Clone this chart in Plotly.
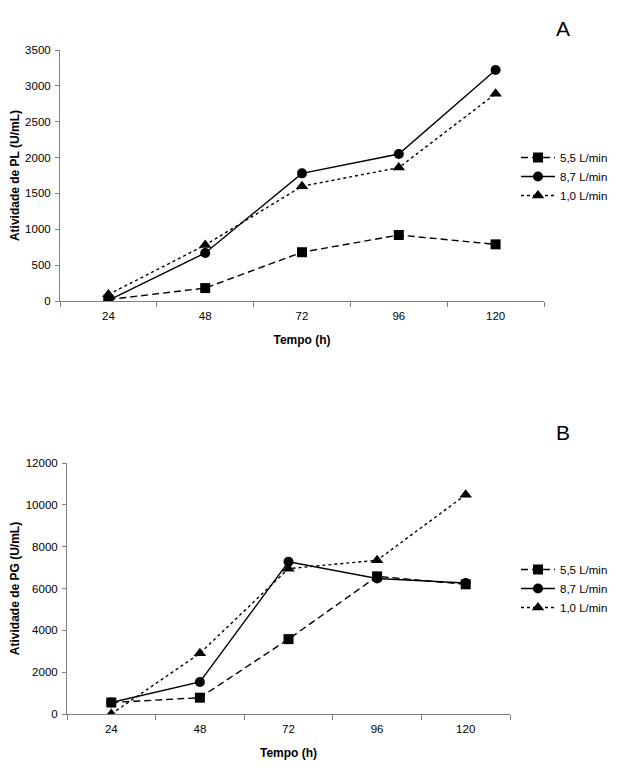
import plotly.graph_objects as go

tempo = ["24", "48", "72", "96", "120"]
series_names = ["5,5 L/min", "8,7 L/min", "1,0 L/min"]

pl_55 = [20, 180, 680, 920, 790]
pl_87 = [10, 670, 1780, 2050, 3220]
pl_10 = [90, 780, 1600, 1860, 2890]

pg_55 = [550, 780, 3580, 6580, 6200]
pg_87 = [550, 1530, 7280, 6480, 6260]
pg_10 = [0, 2900, 6950, 7350, 10480]

styles = [
    dict(dash="7px,4px", symbol="square", size=10),
    dict(dash="solid", symbol="circle", size=10),
    dict(dash="dot", symbol="triangle-up", size=11),
]

FONT = "Liberation Sans, Arial, sans-serif"
fig = go.Figure()

for i, (name, vals) in enumerate(zip(series_names, [pl_55, pl_87, pl_10])):
    st = styles[i]
    fig.add_trace(go.Scatter(
        x=tempo, y=vals, name=name, mode="lines+markers",
        line=dict(color="black", width=1.4, dash=st["dash"]),
        marker=dict(symbol=st["symbol"], size=st["size"], color="black"),
        xaxis="x", yaxis="y", legend="legend",
    ))
for i, (name, vals) in enumerate(zip(series_names, [pg_55, pg_87, pg_10])):
    st = styles[i]
    fig.add_trace(go.Scatter(
        x=tempo, y=vals, name=name, mode="lines+markers",
        line=dict(color="black", width=1.4, dash=st["dash"]),
        marker=dict(symbol=st["symbol"], size=st["size"], color="black"),
        xaxis="x2", yaxis="y2", legend="legend2",
    ))

# page body has an 8px margin: work in page pixels and shift by OFF
OFF = 8
W = 620 - 2 * OFF
H = 779 - 2 * OFF

def px(v):
    return (v - OFF) / W

def py(v):
    return 1 - (v - OFF) / H

def xax(x0, x1, anchor):
    return dict(
        domain=[px(x0), px(x1)], anchor=anchor, type="category",
        range=[-0.5, 4.5], tickson="boundaries", ticks="outside", ticklen=5,
        tickcolor="#808080", showline=True, linecolor="#808080", linewidth=1,
        showgrid=False, zeroline=False, ticklabelstandoff=4, automargin=False,
        tickfont=dict(family=FONT, size=11.5, color="black"),
        title=dict(text="<b>Tempo (h)</b>", font=dict(family=FONT, size=12, color="black"), standoff=14),
    )

def yax(ytop, ybot, anchor, rmax, dtick, title):
    return dict(
        domain=[py(ybot), py(ytop)], anchor=anchor,
        range=[0, rmax], dtick=dtick, tickformat="d",
        ticks="outside", ticklen=4, tickcolor="#808080",
        showline=True, linecolor="#808080", linewidth=1,
        showgrid=False, zeroline=False, ticklabelstandoff=2, automargin=False,
        tickfont=dict(family=FONT, size=11.5, color="black"),
        title=dict(text="<b>" + title + "</b>", font=dict(family=FONT, size=12, color="black"), standoff=3),
    )

legend_common = dict(xanchor="left", yanchor="top",
                     font=dict(family=FONT, size=11.5), tracegroupgap=0,
                     itemwidth=34, bgcolor="rgba(0,0,0,0)")

fig.update_layout(
    width=W, height=H,
    margin=dict(l=0, r=0, t=0, b=0, autoexpand=False),
    paper_bgcolor="white", plot_bgcolor="white",
    font=dict(family=FONT, size=12, color="black"),
    xaxis=xax(60, 544, "y"),
    yaxis=yax(50, 301, "x", 3500, 500, "Atividade de PL (U/mL)"),
    xaxis2=xax(67, 510, "y2"),
    yaxis2=yax(463, 714, "x2", 12000, 2000, "Atividade de PG (U/mL)"),
    legend=dict(x=px(516), y=py(143), **legend_common),
    legend2=dict(x=px(516), y=py(555), **legend_common),
    annotations=[
        dict(text="A", x=px(563), y=py(28), xref="paper", yref="paper",
             xanchor="center", yanchor="middle",
             showarrow=False, font=dict(family=FONT, size=21, color="black")),
        dict(text="B", x=px(563), y=py(432), xref="paper", yref="paper",
             xanchor="center", yanchor="middle",
             showarrow=False, font=dict(family=FONT, size=21, color="black")),
    ],
)

fig.write_html("out.html")
